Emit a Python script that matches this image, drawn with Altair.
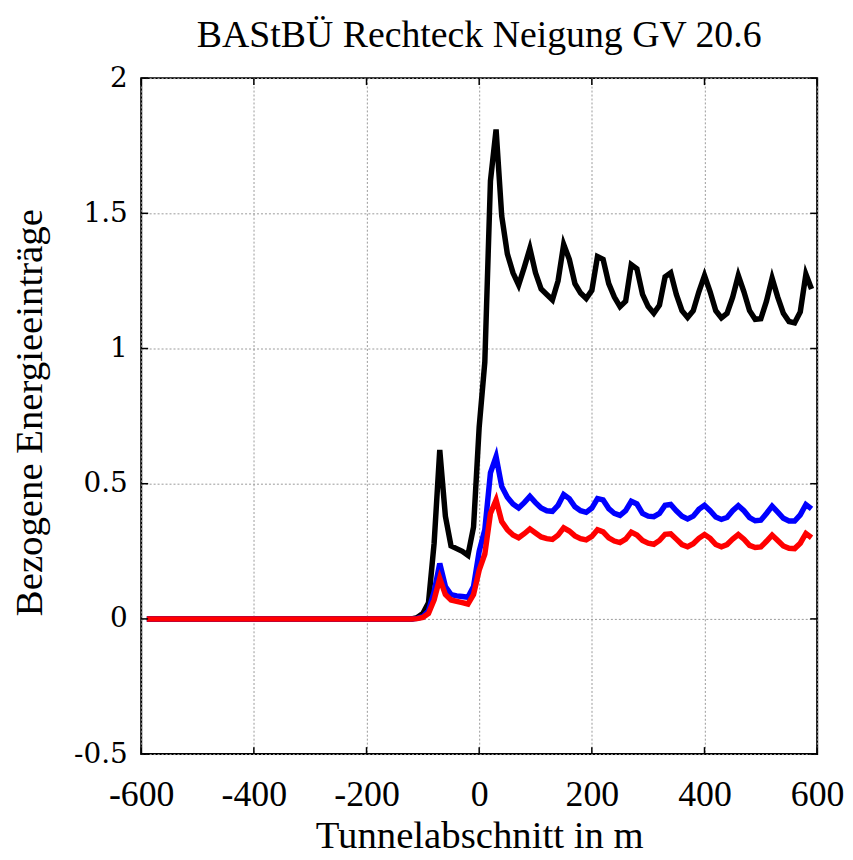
import altair as alt
import pandas as pd

# sample positions along the tunnel (m)
positions = list(range(-590, 600, 10))

# values, -590 ... 590 in steps of 10 m
black = [
    0, 0, 0, 0, 0, 0, 0, 0, 0, 0, 0, 0, 0, 0, 0, 0, 0, 0, 0, 0, 0, 0, 0, 0,
    0, 0, 0, 0, 0, 0, 0, 0, 0, 0, 0, 0, 0, 0, 0, 0, 0, 0, 0, 0, 0, 0, 0, 0,
    0.005, 0.02, 0.06, 0.28, 0.625, 0.38, 0.27, 0.26, 0.25, 0.235, 0.34,
    0.71, 0.95, 1.62, 1.81, 1.49, 1.35, 1.28, 1.235, 1.30, 1.37,
    1.28, 1.22, 1.20, 1.18, 1.25, 1.385, 1.33, 1.24, 1.205, 1.185,
    1.215, 1.34, 1.33, 1.24, 1.19, 1.155, 1.175, 1.31, 1.295, 1.20,
    1.155, 1.13, 1.16, 1.265, 1.28, 1.20, 1.14, 1.115, 1.14, 1.21,
    1.27, 1.21, 1.14, 1.113, 1.13, 1.19, 1.27, 1.21, 1.14, 1.108,
    1.11, 1.175, 1.26, 1.19, 1.13, 1.10, 1.095, 1.135, 1.275, 1.22,
]
blue = [
    0, 0, 0, 0, 0, 0, 0, 0, 0, 0, 0, 0, 0, 0, 0, 0, 0, 0, 0, 0, 0, 0, 0, 0,
    0, 0, 0, 0, 0, 0, 0, 0, 0, 0, 0, 0, 0, 0, 0, 0, 0, 0, 0, 0, 0, 0, 0, 0,
    0.002, 0.008, 0.03, 0.10, 0.205, 0.12, 0.09, 0.085, 0.083, 0.08, 0.12,
    0.25, 0.33, 0.54, 0.60, 0.49, 0.45, 0.425, 0.41, 0.43, 0.453,
    0.43, 0.41, 0.40, 0.398, 0.42, 0.46, 0.445, 0.415, 0.40, 0.394,
    0.41, 0.445, 0.44, 0.408, 0.39, 0.383, 0.40, 0.435, 0.425, 0.39,
    0.38, 0.378, 0.39, 0.42, 0.423, 0.40, 0.38, 0.37, 0.38, 0.405,
    0.42, 0.40, 0.377, 0.368, 0.375, 0.40, 0.419, 0.40, 0.375, 0.363,
    0.365, 0.39, 0.417, 0.395, 0.372, 0.362, 0.362, 0.385, 0.423, 0.407,
]
red = [
    0, 0, 0, 0, 0, 0, 0, 0, 0, 0, 0, 0, 0, 0, 0, 0, 0, 0, 0, 0, 0, 0, 0, 0,
    0, 0, 0, 0, 0, 0, 0, 0, 0, 0, 0, 0, 0, 0, 0, 0, 0, 0, 0, 0, 0, 0, 0, 0,
    0.001, 0.005, 0.02, 0.07, 0.15, 0.09, 0.07, 0.065, 0.06, 0.055, 0.09,
    0.18, 0.24, 0.39, 0.44, 0.36, 0.33, 0.31, 0.30, 0.315, 0.333,
    0.318, 0.303, 0.297, 0.294, 0.31, 0.337, 0.325, 0.307, 0.297, 0.292,
    0.305, 0.33, 0.322, 0.30, 0.288, 0.282, 0.295, 0.321, 0.31, 0.29,
    0.28, 0.276, 0.29, 0.313, 0.315, 0.295, 0.275, 0.267, 0.278, 0.298,
    0.312, 0.298, 0.275, 0.267, 0.275, 0.295, 0.312, 0.295, 0.272, 0.264,
    0.266, 0.287, 0.31, 0.29, 0.27, 0.261, 0.26, 0.28, 0.316, 0.30,
]

series_names = ["black", "blue", "red"]
series_colors = ["#000000", "#0000ff", "#ff0000"]

x_ticks = [-600, -400, -200, 0, 200, 400, 600]
y_ticks = [-0.5, 0, 0.5, 1, 1.5, 2]

title_text = "BAStBÜ Rechteck Neigung GV 20.6"
x_title = "Tunnelabschnitt in m"
y_title = "Bezogene Energieeinträge"

W, H = 680, 680
SERIF = "Liberation Serif"

df = pd.DataFrame({
    "x": positions * 3,
    "y": black + blue + red,
    "s": [series_names[0]] * len(black) + [series_names[1]] * len(blue) + [series_names[2]] * len(red),
})
xt = pd.DataFrame({"t": x_ticks})
yt = pd.DataFrame({"t": y_ticks})

xs = alt.Scale(domain=[-600, 600], nice=False, zero=False)
ys = alt.Scale(domain=[-0.5, 2], nice=False, zero=False)

lab = "datum.value < 0 ? '-' + format(-datum.value, '~g') : format(datum.value, '~g')"

x_axis = alt.Axis(
    values=x_ticks, labelExpr=lab, domain=False, ticks=False,
    grid=True, gridDash=[2, 2], gridColor="#9a9a9a", gridWidth=1,
    labelFont=SERIF, labelFontSize=36, labelColor="black", labelPadding=24,
    labelFlush=False, labelOverlap=False,
    title=x_title, titleFont=SERIF, titleFontSize=39, titleFontWeight="normal",
    titleColor="black", titleX=340, titleY=94, titleBaseline="alphabetic",
    titleAlign="center",
)
y_axis = alt.Axis(
    values=y_ticks, labelExpr=lab, domain=False, ticks=False,
    grid=True, gridDash=[2, 2], gridColor="#9a9a9a", gridWidth=1,
    labelFont="DejaVu Serif", labelFontSize=28, labelColor="black", labelPadding=14,
    labelFlush=False, labelOverlap=False,
    title=y_title, titleFont=SERIF, titleFontSize=39, titleFontWeight="normal",
    titleColor="black", titleX=-112, titleY=336, titleAngle=270,
    titleAlign="center", titleBaseline="middle",
)

# invisible base layer that carries the axes and grid
base = alt.Chart(pd.DataFrame({"x": [x_ticks[0], x_ticks[-1]], "y": [y_ticks[0], y_ticks[-1]]})).mark_point(
    opacity=0
).encode(
    x=alt.X("x:Q", scale=xs, axis=x_axis),
    y=alt.Y("y:Q", scale=ys, axis=y_axis),
)

layers = [base]
for name, col in zip(series_names, series_colors):
    layers.append(
        alt.Chart(df).transform_filter(alt.datum.s == name).mark_line(
            color=col, strokeWidth=5.5, strokeJoin="miter"
        ).encode(
            x=alt.X("x:Q", scale=xs, axis=x_axis),
            y=alt.Y("y:Q", scale=ys, axis=y_axis),
        )
    )

TL = 7
tick_layers = [
    alt.Chart(xt).mark_rule(color="black", strokeWidth=1.5).encode(
        x=alt.X("t:Q", scale=xs, axis=x_axis), y=alt.value(H), y2=alt.value(H - TL)),
    alt.Chart(xt).mark_rule(color="black", strokeWidth=1.5).encode(
        x=alt.X("t:Q", scale=xs, axis=x_axis), y=alt.value(0), y2=alt.value(TL)),
    alt.Chart(yt).mark_rule(color="black", strokeWidth=1.5).encode(
        y=alt.Y("t:Q", scale=ys, axis=y_axis), x=alt.value(0), x2=alt.value(TL)),
    alt.Chart(yt).mark_rule(color="black", strokeWidth=1.5).encode(
        y=alt.Y("t:Q", scale=ys, axis=y_axis), x=alt.value(W), x2=alt.value(W - TL)),
]

chart = alt.layer(*layers, *tick_layers).properties(
    width=W, height=H,
    autosize="none",
    background="white",
    padding={"left": 134, "top": 68, "right": 28, "bottom": 104},
    title=alt.TitleParams(
        text=title_text, font=SERIF, fontSize=38, fontWeight="normal",
        color="black", anchor="middle", offset=9,
    ),
).configure_view(stroke="black", strokeWidth=2)

chart.save("out.html", embed_options={"renderer": "svg", "actions": False})
